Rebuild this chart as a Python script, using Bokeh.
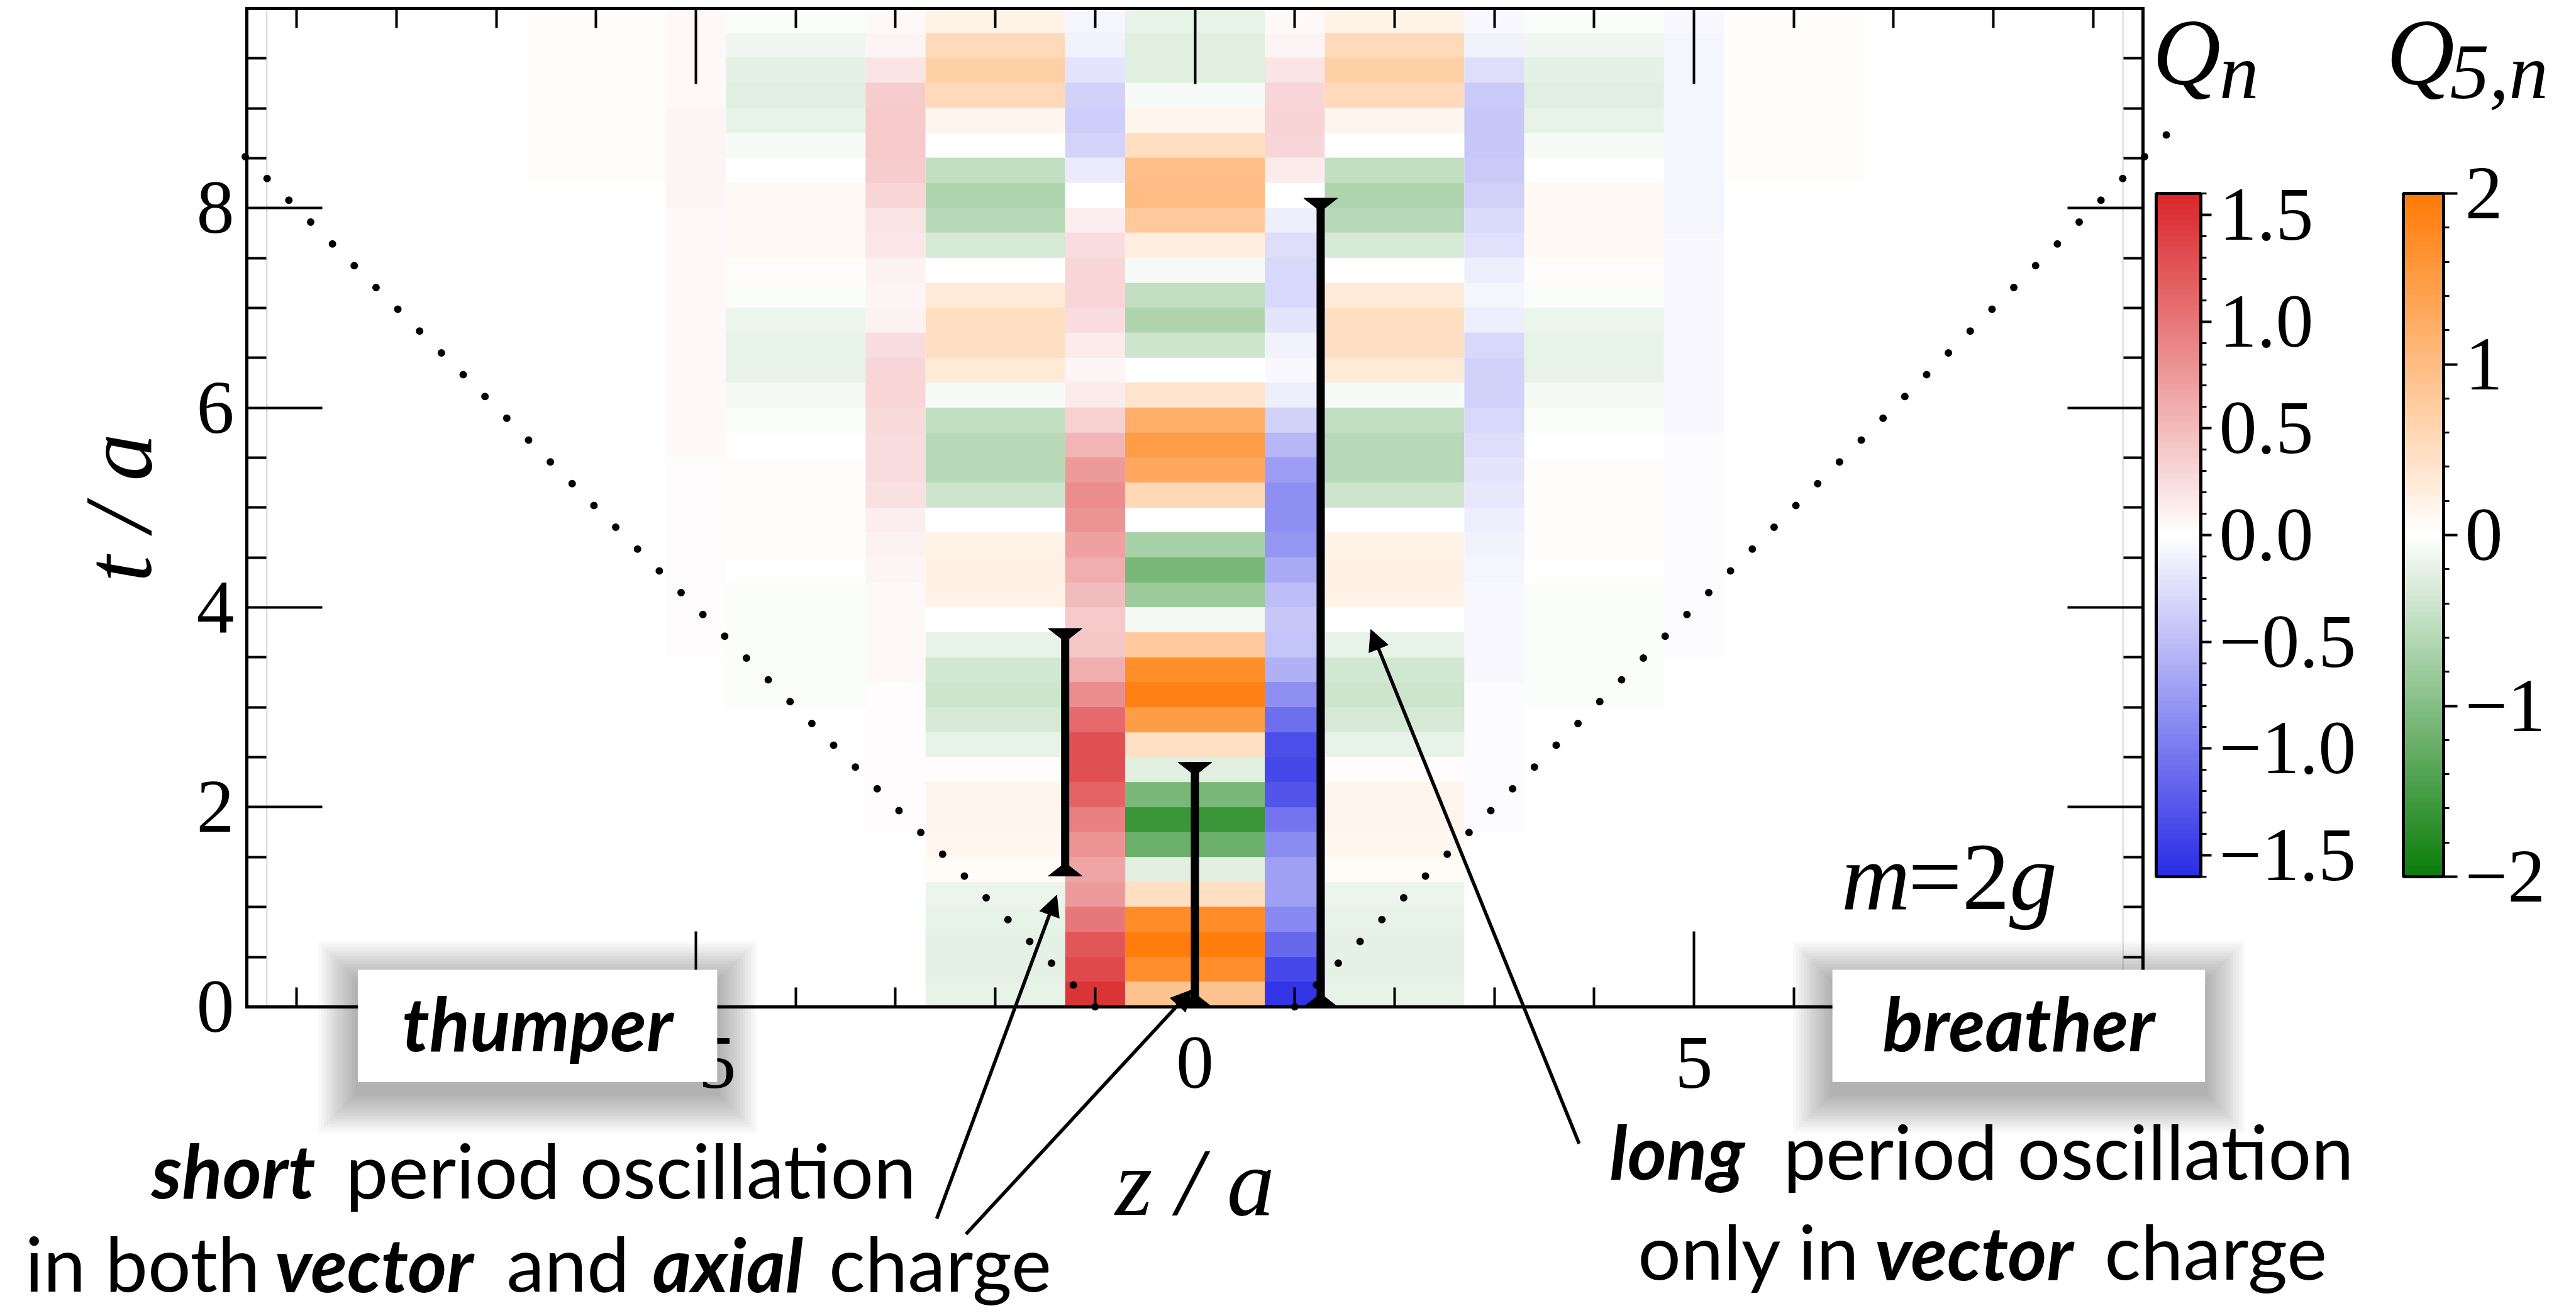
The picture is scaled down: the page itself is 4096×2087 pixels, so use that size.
import numpy as np
from bokeh.plotting import figure
from bokeh.models import (LinearColorMapper, ColorBar, FixedTicker, CustomLabelingPolicy,
                          CustomJSTickFormatter, LinearAxis, Range1d, Label, Arrow,
                          NormalHead, BoxAnnotation)
from bokeh.embed import file_html
from bokeh.resources import INLINE

# ---------------- data ----------------
# centres of the sampled time bands (t / a); each band is 0.25 tall
t_rows = [0.125, 0.375, 0.625, 0.875, 1.125, 1.375, 1.625, 1.875, 2.125, 2.375,
          2.625, 2.875, 3.125, 3.375, 3.625, 3.875, 4.125, 4.375, 4.625, 4.875,
          5.125, 5.375, 5.625, 5.875, 6.125, 6.375, 6.625, 6.875, 7.125, 7.375,
          7.625, 7.875, 8.125, 8.375, 8.625, 8.875, 9.125, 9.375, 9.625, 9.875]
band_dt = 0.25

# vector charge Q_n on odd sites
q_zm9 = [0, 0, 0, 0, 0, 0, 0, 0, 0, 0, 0, 0, 0, 0, 0, 0, 0, 0, 0, 0,
         0, 0, 0, 0, 0, 0, 0, 0, 0, 0, 0, 0, 0, 0, 0, 0, 0, 0, 0, 0]
q_zm7 = [0, 0, 0, 0, 0, 0, 0, 0, 0, 0, 0, 0, 0, 0, 0, 0, 0, 0, 0, 0,
         0, 0, 0, 0, 0, 0, 0, 0, 0.01, 0.01, 0.01, 0.01, 0.01, 0.01, 0.01, 0.01, 0.01, 0.01, 0.01, 0.01]
q_zm5 = [0, 0, 0, 0, 0, 0, 0, 0, 0, 0, 0.01, 0.01, 0.01, 0.01, 0.02, 0.02, 0.02, 0.02, 0.03, 0.03,
         0.03, 0.03, 0.04, 0.04, 0.04, 0.04, 0.05, 0.05, 0.05, 0.06, 0.06, 0.06, 0.07, 0.07, 0.07, 0.07, 0.06, 0.06, 0.05, 0.04]
q_zm3 = [0.0, 0.0, 0.0, 0.0, 0.01, 0.01, 0.01, 0.02, 0.02, 0.02, 0.02, 0.03, 0.03, 0.04, 0.04, 0.05, 0.06, 0.08, 0.1, 0.12,
         0.22, 0.25, 0.25, 0.28, 0.3, 0.3, 0.25, 0.1, 0.07, 0.1, 0.18, 0.2, 0.3, 0.38, 0.4, 0.4, 0.38, 0.2, 0.08, 0.05]
q_zm1 = [1.5, 1.35, 1.25, 1.0, 0.75, 0.68, 0.8, 0.95, 1.15, 1.3, 1.3, 1.1, 0.85, 0.6, 0.42, 0.4, 0.5, 0.6, 0.7, 0.8,
         0.85, 0.75, 0.55, 0.35, 0.15, 0.08, 0.15, 0.25, 0.3, 0.3, 0.25, 0.12, 0.0, -0.15, -0.32, -0.38, -0.35, -0.2, -0.1, -0.08]
q_zp1 = [-1.55, -1.4, -1.15, -0.9, -0.72, -0.72, -0.88, -1.05, -1.3, -1.4, -1.35, -1.1, -0.85, -0.6, -0.45, -0.43, -0.5, -0.65, -0.8, -0.85,
         -0.85, -0.75, -0.55, -0.35, -0.12, -0.05, -0.1, -0.2, -0.3, -0.3, -0.25, -0.12, 0.0, 0.15, 0.3, 0.33, 0.3, 0.2, 0.08, 0.05]
q_zp3 = [0.0, 0.0, 0.0, 0.0, -0.01, -0.01, -0.01, -0.02, -0.02, -0.02, -0.03, -0.03, -0.03, -0.04, -0.04, -0.05, -0.06, -0.08, -0.1, -0.12,
         -0.18, -0.2, -0.25, -0.3, -0.35, -0.35, -0.3, -0.12, -0.08, -0.12, -0.22, -0.28, -0.35, -0.4, -0.42, -0.42, -0.4, -0.25, -0.1, -0.05]
q_zp5 = [0, 0, 0, 0, 0, 0, 0, 0, 0, 0, -0.01, -0.01, -0.01, -0.01, -0.02, -0.02, -0.02, -0.02, -0.02, -0.03,
         -0.03, -0.03, -0.03, -0.04, -0.04, -0.05, -0.05, -0.05, -0.05, -0.06, -0.06, -0.07, -0.08, -0.08, -0.08, -0.08, -0.08, -0.08, -0.07, -0.05]
q_zp7 = [0, 0, 0, 0, 0, 0, 0, 0, 0, 0, 0, 0, 0, 0, 0, 0, 0, 0, 0, 0,
         0, 0, 0, 0, 0, 0, 0, 0, -0.01, -0.01, -0.01, -0.01, -0.01, -0.01, -0.01, -0.01, -0.01, -0.01, -0.01, -0.01]
q_zp9 = [0, 0, 0, 0, 0, 0, 0, 0, 0, 0, 0, 0, 0, 0, 0, 0, 0, 0, 0, 0,
         0, 0, 0, 0, 0, 0, 0, 0, 0, 0, 0, 0, 0, 0, 0, 0, 0, 0, 0, 0]

# axial charge Q_{5,n} on even sites
q5_zm8 = [0, 0, 0, 0, 0, 0, 0, 0, 0, 0, 0, 0, 0, 0, 0, 0, 0, 0, 0, 0,
          0.01, 0.01, 0.01, 0.01, 0, 0, 0, 0, -0.01, -0.01, -0.01, -0.01, 0, 0, 0.01, 0.01, 0.01, 0.01, 0.01, 0]
q5_zm6 = [0, 0, 0, 0, 0, 0, 0, 0, 0, 0, 0, 0, 0, 0, 0, 0, 0.01, 0.01, 0.0, 0.0,
          -0.01, -0.01, 0.0, 0.01, 0.01, 0.01, 0.01, 0.0, -0.01, -0.01, -0.01, -0.01, 0.0, 0.02, 0.03, 0.03, 0.03, 0.03, 0.02, 0.02]
q5_zm4 = [0, 0, 0, 0, 0, 0, 0, 0, 0, 0, 0, -0.01, -0.02, -0.02, -0.03, -0.03, -0.02, 0.01, 0.02, 0.03,
          0.03, 0.03, 0.0, -0.02, -0.08, -0.18, -0.2, -0.15, -0.02, 0.02, 0.08, 0.1, 0.08, 0.0, -0.05, -0.18, -0.25, -0.22, -0.12, -0.03]
q5_zm2 = [-0.2, -0.22, -0.22, -0.2, -0.15, 0.05, 0.13, 0.15, 0.15, 0.03, -0.2, -0.35, -0.4, -0.38, -0.2, 0.0, 0.18, 0.23, 0.2, 0.0,
          -0.4, -0.6, -0.6, -0.5, -0.05, 0.3, 0.5, 0.5, 0.3, 0.0, -0.35, -0.6, -0.66, -0.5, 0.0, 0.15, 0.55, 0.7, 0.55, 0.2]
q5_z0 = [0.9, 1.7, 1.95, 1.75, 0.5, -0.25, -1.2, -1.6, -1.1, -0.25, 0.45, 1.5, 1.9, 1.7, 0.8, -0.1, -0.8, -1.1, -0.7, 0.0,
         0.6, 1.3, 1.5, 1.2, 0.4, 0.0, -0.4, -0.65, -0.5, -0.05, 0.25, 0.8, 1.0, 0.95, 0.5, 0.15, -0.05, -0.25, -0.25, -0.2]
q5_zp2 = [-0.2, -0.22, -0.22, -0.2, -0.15, 0.05, 0.13, 0.15, 0.15, 0.03, -0.2, -0.35, -0.4, -0.38, -0.2, 0.0, 0.18, 0.23, 0.2, 0.0,
          -0.4, -0.6, -0.6, -0.5, -0.05, 0.3, 0.5, 0.5, 0.3, 0.0, -0.35, -0.6, -0.66, -0.5, 0.0, 0.15, 0.55, 0.7, 0.55, 0.2]
q5_zp4 = [0, 0, 0, 0, 0, 0, 0, 0, 0, 0, 0, -0.01, -0.02, -0.02, -0.03, -0.03, -0.02, 0.01, 0.02, 0.03,
          0.03, 0.03, 0.0, -0.02, -0.08, -0.18, -0.2, -0.15, -0.02, 0.02, 0.08, 0.1, 0.08, 0.0, -0.05, -0.18, -0.25, -0.22, -0.12, -0.03]
q5_zp6 = [0, 0, 0, 0, 0, 0, 0, 0, 0, 0, 0, 0, 0, 0, 0, 0, 0.01, 0.01, 0.0, 0.0,
          -0.01, -0.01, 0.0, 0.01, 0.01, 0.01, 0.01, 0.0, -0.01, -0.01, -0.01, -0.01, 0.0, 0.02, 0.03, 0.03, 0.03, 0.03, 0.02, 0.02]
q5_zp8 = [0, 0, 0, 0, 0, 0, 0, 0, 0, 0, 0, 0, 0, 0, 0, 0, 0, 0, 0, 0,
          0.01, 0.01, 0.01, 0.01, 0, 0, 0, 0, -0.01, -0.01, -0.01, -0.01, 0, 0, 0.01, 0.01, 0.01, 0.01, 0.01, 0]

q_columns = {-9: q_zm9, -7: q_zm7, -5: q_zm5, -3: q_zm3, -1: q_zm1,
             1: q_zp1, 3: q_zp3, 5: q_zp5, 7: q_zp7, 9: q_zp9}
q5_columns = {-8: q5_zm8, -6: q5_zm6, -4: q5_zm4, -2: q5_zm2, 0: q5_z0,
              2: q5_zp2, 4: q5_zp4, 6: q5_zp6, 8: q5_zp8}

# light cone  z = +-(1 + t)
cone_left_z = [-1.0, -9.6]
cone_left_t = [0.0, 8.6]
cone_right_z = [1.0, 9.8]
cone_right_t = [0.0, 8.8]

# oscillation-period markers
bar_z = [-1.3, 0.0, 1.26]
bar_lo = [1.31, 0.0, 0.0]
bar_hi = [3.79, 2.45, 8.10]

# ticks
x_major = [-5, 0, 5]
x_minor = [-9, -8, -7, -6, -4, -3, -2, -1, 1, 2, 3, 4, 6, 7, 8, 9]
y_major = [0, 2, 4, 6, 8]
y_minor = [0.5, 1, 1.5, 2.5, 3, 3.5, 4.5, 5, 5.5, 6.5, 7, 7.5, 8.5, 9, 9.5]
q_major = [-1.5, -1.0, -0.5, 0.0, 0.5, 1.0, 1.5]
q_minor = [-1.6, -1.4, -1.3, -1.2, -1.1, -0.9, -0.8, -0.7, -0.6, -0.4, -0.3, -0.2, -0.1,
           0.1, 0.2, 0.3, 0.4, 0.6, 0.7, 0.8, 0.9, 1.1, 1.2, 1.3, 1.4, 1.6]
q5_major = [-2, -1, 0, 1, 2]
q5_minor = [-1.8, -1.6, -1.4, -1.2, -0.8, -0.6, -0.4, -0.2, 0.2, 0.4, 0.6, 0.8, 1.2, 1.4, 1.6, 1.8]

# plot box (z / a, t / a)
z_lo, z_hi, t_lo, t_hi = -9.5, 9.5, 0.0, 10.0

# annotations (data coordinates; t values are text baselines)
arrows = [(-2.587, -2.122, -1.385, 1.119),
          (-2.294, -2.277, -0.03, 0.17),
          (3.85, -1.371, 1.762, 3.78)]
text_pieces = [
    ("short", -10.454, -1.906, "bold italic"),
    ("period oscillation", -8.51, -1.906, "normal"),
    ("in both", -11.723, -2.84, "normal"),
    ("vector", -9.219, -2.84, "bold italic"),
    ("and", -6.898, -2.84, "normal"),
    ("axial", -5.435, -2.84, "bold italic"),
    ("charge", -3.668, -2.84, "normal"),
    ("long", 4.155, -1.717, "bold italic"),
    ("period oscillation", 5.895, -1.717, "normal"),
    ("only in", 4.438, -2.72, "normal"),
    ("vector", 6.814, -2.72, "bold italic"),
    ("charge", 9.114, -2.72, "normal"),
]
tags = [("thumper", -8.388, -4.787), ("breather", 6.388, 10.122)]
tag_bottom, tag_top, tag_baseline = -0.753, 0.371, -0.432
cb_titles = [("Q", 9.596, 9.215, 150), ("n", 10.266, 9.08, 125),
             ("Q", 11.939, 9.215, 150), ("5,n", 12.576, 9.08, 125)]

# ---------------- canvas geometry ----------------
W, H = 4096, 2087
PX = 3015 / 19.0                  # pixels per data unit
LEFT_PAD, TOP_PAD = 392, 13       # plot box offset inside the canvas
x0 = z_lo - LEFT_PAD / PX
y1 = t_hi + TOP_PAD / PX
BASE_SHIFT = 0.365                # label anchor sits this many em above the drawn baseline
WHITE = (255, 255, 255)


def blend(c1, c2, f):
    return tuple(int(round(a + (b - a) * f)) for a, b in zip(c1, c2))


def diverging(lo, hi, n=129):
    half = n // 2
    cols = [blend(lo, WHITE, i / half) for i in range(half)]
    cols += [blend(WHITE, hi, i / half) for i in range(half + 1)]
    return ["#%02x%02x%02x" % c for c in cols]


q_mapper = LinearColorMapper(palette=diverging((43, 45, 229), (217, 39, 42)), low=-1.6, high=1.6)
q5_mapper = LinearColorMapper(palette=diverging((11, 126, 11), (255, 123, 8)), low=-2.0, high=2.0)

p = figure(x_range=Range1d(x0, x0 + W / PX), y_range=Range1d(y1 - H / PX, y1),
           frame_width=W, frame_height=H, min_border=0,
           min_border_left=0, min_border_right=0, min_border_top=0, min_border_bottom=0,
           output_backend="svg", toolbar_location=None, title=None)
p.background_fill_color = "white"
p.border_fill_color = "white"
p.outline_line_color = None
p.xgrid.visible = False
p.ygrid.visible = False

# heat map: wide cells on even sites (axial charge), narrow cells on odd sites (vector charge)
t_start = t_rows[0] - band_dt / 2
t_span = len(t_rows) * band_dt
for columns, mapper, w in ((q5_columns, q5_mapper, 1.4), (q_columns, q_mapper, 0.6)):
    for z, vals in columns.items():
        p.image(image=[np.array(vals, dtype=float).reshape(-1, 1)], x=z - w / 2, y=t_start,
                dw=w, dh=t_span, color_mapper=mapper)

edge = max(abs(z) for z in q_columns) + 0.3
p.segment(x0=[-edge, edge], y0=[t_lo, t_lo], x1=[-edge, edge], y1=[t_hi, t_hi],
          line_color="#d6d6d6", line_width=2)

# light cone
for cz, ct in ((cone_left_z, cone_left_t), (cone_right_z, cone_right_t)):
    p.line(x=cz, y=ct, line_color="black", line_width=12, line_dash="0 49", line_cap="round")

# period markers
p.segment(x0=bar_z, y0=bar_lo, x1=bar_z, y1=bar_hi, line_color="black", line_width=13)
cap_w, cap_h = 0.17, 0.133
cx, cy = [], []
for z, lo, hi in zip(bar_z, bar_lo, bar_hi):
    cx.append([z - cap_w, z + cap_w, z]); cy.append([hi, hi, hi - cap_h])
    cx.append([z - cap_w, z + cap_w, z]); cy.append([lo, lo, lo + cap_h])
p.patches(xs=cx, ys=cy, fill_color="black", line_color="black", line_width=1)

# axes, pinned to the edges of the plot box
xt = FixedTicker(ticks=x_major, minor_ticks=x_minor)
yt = FixedTicker(ticks=y_major, minor_ticks=y_minor)
int_fmt = CustomJSTickFormatter(code="return (tick < 0 ? '\\u2212' : '') + Math.abs(tick).toFixed(0);")
blank_fmt = CustomJSTickFormatter(code="return '';")
no_labels = CustomLabelingPolicy(code="for (const i of Array.from(indices)) { indices.unset(i) } return indices")


def style_axis(ax, show_labels):
    ax.axis_line_color = "black"
    ax.axis_line_width = 5
    ax.axis_line_cap = "square"
    ax.major_tick_in = 120
    ax.major_tick_out = 0
    ax.minor_tick_in = 31
    ax.minor_tick_out = 0
    ax.major_tick_line_width = 4
    ax.minor_tick_line_width = 4
    ax.major_tick_line_color = "black"
    ax.minor_tick_line_color = "black"
    ax.major_label_text_font = "Liberation Serif"
    ax.major_label_text_font_size = "120px"
    ax.major_label_text_color = "black"
    if show_labels:
        ax.formatter = int_fmt
    else:
        ax.formatter = blank_fmt
        ax.major_label_policy = no_labels


xa = p.xaxis[0]
ya = p.yaxis[0]
xa.ticker = xt
ya.ticker = yt
xa.fixed_location = t_lo
xa.bounds = (z_lo, z_hi)
ya.fixed_location = z_lo
ya.bounds = (t_lo, t_hi)
style_axis(xa, True)
style_axis(ya, True)
xa.major_label_standoff = 50
ya.major_label_standoff = 20
xa.axis_label = "z / a"
ya.axis_label = "t / a"
for ax in (xa, ya):
    ax.axis_label_text_font = "Liberation Serif"
    ax.axis_label_text_font_style = "italic"
    ax.axis_label_text_font_size = "152px"
    ax.axis_label_text_color = "black"
xa.axis_label_standoff = 63
ya.axis_label_standoff = 37

top_ax = LinearAxis(ticker=xt, fixed_location=t_hi, bounds=(z_lo, z_hi))
style_axis(top_ax, False)
p.add_layout(top_ax, "above")
right_ax = LinearAxis(ticker=yt, fixed_location=z_hi, bounds=(t_lo, t_hi))
style_axis(right_ax, False)
p.add_layout(right_ax, "right")


def add_text(txt, z, t, font, style, size_px, align="left"):
    p.add_layout(Label(x=z, y=t + BASE_SHIFT * size_px / PX, text=txt, text_font=font,
                       text_font_style=style, text_font_size="%dpx" % size_px, text_color="black",
                       text_align=align, text_baseline="alphabetic"))


# arrows
for za, ta, zb, tb in arrows:
    p.add_layout(Arrow(end=NormalHead(size=33, fill_color="black", line_color="black", line_width=1),
                       x_start=za, y_start=ta, x_end=zb, y_end=tb,
                       line_color="black", line_width=5.5))

# labelled boxes with a soft drop shadow
for name, za, zb in tags:
    off = 18 / PX
    for k in range(14, 0, -1):
        e = k * 4.5 / PX
        p.add_layout(BoxAnnotation(left=za - e, right=zb + e, bottom=tag_bottom - e - off, top=tag_top + e - off,
                                   fill_color="black", fill_alpha=0.024, line_color=None))
    p.add_layout(BoxAnnotation(left=za, right=zb, bottom=tag_bottom, top=tag_top,
                               fill_color="white", fill_alpha=1.0, line_color=None))
    add_text(name, (za + zb) / 2, tag_baseline, "Lato", "bold italic", 119, "center")

for txt, z, t, style in text_pieces:
    add_text(txt, z, t, "Lato", style, 119 if style != "normal" else 121)

# m = 2g
for txt, z, style in (("m", 6.476, "italic"), ("=2", 7.147, "normal"), ("g", 8.161, "italic")):
    add_text(txt, z, 0.953, "Liberation Serif", style, 152)


# colour bars
def make_cb(mapper, major, minor, digits, x, width, tick_len):
    fmt = CustomJSTickFormatter(code="return (tick < -1e-9 ? '\\u2212' : '') + Math.abs(tick).toFixed(%d);" % digits)
    return ColorBar(color_mapper=mapper, ticker=FixedTicker(ticks=major, minor_ticks=minor), formatter=fmt,
                    orientation="vertical", location=(x, 694), width=width, height=1086,
                    padding=0, margin=0, title=None,
                    bar_line_color="black", bar_line_width=5,
                    major_tick_in=0, major_tick_out=tick_len, minor_tick_in=0, minor_tick_out=9,
                    major_tick_line_color="black", major_tick_line_width=4,
                    minor_tick_line_color="black", minor_tick_line_width=3,
                    label_standoff=12, major_label_text_font="Liberation Serif",
                    major_label_text_font_size="120px", major_label_text_color="black",
                    background_fill_alpha=0, border_line_color=None)


p.add_layout(make_cb(q_mapper, q_major, q_minor, 1, 3428, 71, 17), "center")
p.add_layout(make_cb(q5_mapper, q5_major, q5_minor, 0, 3821, 64, 22), "center")

for txt, z, t, size in cb_titles:
    add_text(txt, z, t, "Liberation Serif", "italic", size)

open("out.html", "w").write(file_html(p, INLINE))
